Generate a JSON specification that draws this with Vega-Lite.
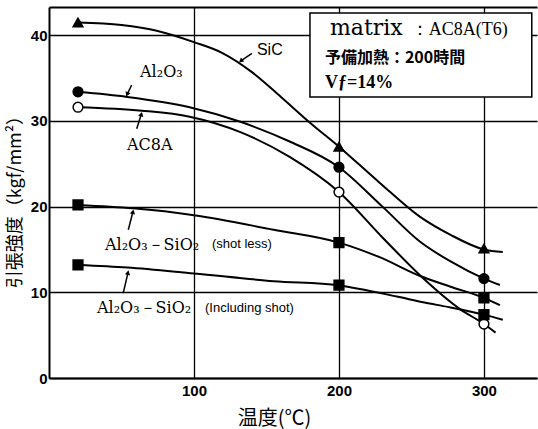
{
  "$schema": "https://vega.github.io/schema/vega-lite/v6.json",
  "width": 488,
  "height": 371,
  "autosize": {"type": "none"},
  "padding": {"left": 49, "top": 7, "right": 1, "bottom": 51},
  "background": "white",
  "config": {
    "view": {"stroke": null},
    "axis": {"domainColor": "black", "domainWidth": 2, "gridColor": "black", "gridWidth": 1.3, "gridOpacity": 1, "ticks": false, "labelColor": "black", "titleColor": "black"}
  },
  "resolve": {"axis": {"x": "independent"}},
  "datasets": {
    "curves": [
      {"series": "SiC", "x": 20, "y": 41.5}, {"series": "SiC", "x": 50, "y": 41.2}, {"series": "SiC", "x": 75, "y": 40.5}, {"series": "SiC", "x": 100, "y": 39.2}, {"series": "SiC", "x": 120, "y": 37.9}, {"series": "SiC", "x": 140, "y": 35.7}, {"series": "SiC", "x": 160, "y": 32.8}, {"series": "SiC", "x": 180, "y": 29.8}, {"series": "SiC", "x": 200, "y": 27.0}, {"series": "SiC", "x": 228, "y": 22.8}, {"series": "SiC", "x": 256, "y": 18.8}, {"series": "SiC", "x": 277, "y": 16.7}, {"series": "SiC", "x": 300, "y": 15.0}, {"series": "SiC", "x": 313, "y": 14.7},
      {"series": "Al2O3", "x": 20, "y": 33.4}, {"series": "Al2O3", "x": 54, "y": 32.8}, {"series": "Al2O3", "x": 97, "y": 31.6}, {"series": "Al2O3", "x": 132, "y": 29.9}, {"series": "Al2O3", "x": 166, "y": 27.6}, {"series": "Al2O3", "x": 200, "y": 24.6}, {"series": "Al2O3", "x": 230, "y": 20.0}, {"series": "Al2O3", "x": 256, "y": 15.9}, {"series": "Al2O3", "x": 277, "y": 13.6}, {"series": "Al2O3", "x": 300, "y": 11.6}, {"series": "Al2O3", "x": 311, "y": 10.85},
      {"series": "AC8A", "x": 20, "y": 31.6}, {"series": "AC8A", "x": 64, "y": 31.2}, {"series": "AC8A", "x": 97, "y": 30.5}, {"series": "AC8A", "x": 132, "y": 28.7}, {"series": "AC8A", "x": 166, "y": 25.8}, {"series": "AC8A", "x": 200, "y": 21.7}, {"series": "AC8A", "x": 230, "y": 16.4}, {"series": "AC8A", "x": 259, "y": 11.5}, {"series": "AC8A", "x": 283, "y": 8.1}, {"series": "AC8A", "x": 300, "y": 6.3}, {"series": "AC8A", "x": 308, "y": 5.3},
      {"series": "shotless", "x": 20, "y": 20.2}, {"series": "shotless", "x": 58, "y": 19.8}, {"series": "shotless", "x": 100, "y": 19.0}, {"series": "shotless", "x": 155, "y": 17.3}, {"series": "shotless", "x": 200, "y": 15.8}, {"series": "shotless", "x": 228, "y": 14.1}, {"series": "shotless", "x": 256, "y": 11.9}, {"series": "shotless", "x": 277, "y": 10.65}, {"series": "shotless", "x": 300, "y": 9.35}, {"series": "shotless", "x": 311, "y": 8.5},
      {"series": "including", "x": 20, "y": 13.2}, {"series": "including", "x": 54, "y": 12.9}, {"series": "including", "x": 100, "y": 12.2}, {"series": "including", "x": 155, "y": 11.3}, {"series": "including", "x": 200, "y": 10.8}, {"series": "including", "x": 240, "y": 9.5}, {"series": "including", "x": 259, "y": 8.8}, {"series": "including", "x": 275, "y": 8.3}, {"series": "including", "x": 300, "y": 7.4}, {"series": "including", "x": 313, "y": 6.8}
    ],
    "points": [
      {"series": "SiC", "x": 20, "y": 41.5}, {"series": "SiC", "x": 200, "y": 27.0}, {"series": "SiC", "x": 300, "y": 15.1},
      {"series": "Al2O3", "x": 20, "y": 33.4}, {"series": "Al2O3", "x": 200, "y": 24.6}, {"series": "Al2O3", "x": 300, "y": 11.6},
      {"series": "AC8A", "x": 20, "y": 31.6}, {"series": "AC8A", "x": 200, "y": 21.7}, {"series": "AC8A", "x": 300, "y": 6.3},
      {"series": "shotless", "x": 20, "y": 20.2}, {"series": "shotless", "x": 200, "y": 15.8}, {"series": "shotless", "x": 300, "y": 9.35},
      {"series": "including", "x": 20, "y": 13.2}, {"series": "including", "x": 200, "y": 10.85}, {"series": "including", "x": 300, "y": 7.4}
    ],
    "arrows": [
      {"x": 140.0, "y": 37.9, "x2": 132.3, "y2": 37.0, "dir": 230},
      {"x": 57.0, "y": 34.2, "x2": 53.9, "y2": 33.1, "dir": 203},
      {"x": 60.5, "y": 29.1, "x2": 63.7, "y2": 30.8, "dir": 15},
      {"x": 54.7, "y": 17.3, "x2": 57.9, "y2": 19.4, "dir": 13},
      {"x": 51.2, "y": 9.9, "x2": 54.5, "y2": 12.3, "dir": 12}
    ]
  },
  "layer": [
    {
      "data": {"values": [{"x": 180, "x2": 333, "y": 32.8, "y2": 42.6}]},
      "mark": {"type": "rect", "fill": "white", "stroke": "black", "strokeWidth": 1.5},
      "encoding": {
        "x": {"field": "x", "type": "quantitative", "scale": {"domain": [0, 336.6], "nice": false, "zero": false},
              "axis": {"orient": "top", "labels": false, "ticks": false, "grid": false, "title": null, "domainWidth": 2}},
        "x2": {"field": "x2"},
        "y": {"field": "y", "type": "quantitative", "scale": {"domain": [0, 43.3], "nice": false},
              "axis": {"values": [0, 10, 20, 30, 40], "grid": true, "labelFont": "Liberation Sans", "labelFontWeight": "bold", "labelFontSize": 15, "labelPadding": 2,
                       "title": "引張強度（kgf/mm²）", "titleFont": "Noto Sans CJK JP", "titleFontSize": 18, "titleFontWeight": "normal", "titleAngle": -90, "titleX": -34, "titleY": 190, "titleAlign": "center", "titleBaseline": "middle"}},
        "y2": {"field": "y2"}
      }
    },
    {
      "data": {"name": "curves"},
      "mark": {"type": "line", "interpolate": "monotone", "color": "black", "strokeWidth": 2},
      "encoding": {
        "x": {"field": "x", "type": "quantitative", "scale": {"domain": [0, 336.6], "nice": false, "zero": false},
              "axis": {"values": [100, 200, 300], "grid": true, "labelFont": "Liberation Sans", "labelFontWeight": "bold", "labelFontSize": 15, "labelPadding": 5,
                       "title": "温度(℃)", "titleFont": "Noto Sans CJK JP", "titleFontSize": 20, "titleFontWeight": "normal", "titleX": 225, "titleY": 40, "titleAlign": "center", "titleBaseline": "middle"}},
        "y": {"field": "y", "type": "quantitative", "title": "引張強度（kgf/mm²）"},
        "detail": {"field": "series"}
      }
    },
    {
      "data": {"name": "points"},
      "mark": {"type": "point", "filled": true, "stroke": "black", "strokeWidth": 1.5, "opacity": 1, "size": 95},
      "encoding": {
        "x": {"field": "x", "type": "quantitative", "axis": null},
        "y": {"field": "y", "type": "quantitative", "title": "引張強度（kgf/mm²）"},
        "shape": {"field": "series", "scale": {"domain": ["SiC", "Al2O3", "AC8A", "shotless", "including"], "range": ["triangle-up", "circle", "circle", "square", "square"]}, "legend": null},
        "fill": {"field": "series", "scale": {"domain": ["SiC", "Al2O3", "AC8A", "shotless", "including"], "range": ["black", "black", "white", "black", "black"]}, "legend": null}
      }
    },
    {
      "data": {"name": "arrows"},
      "mark": {"type": "rule", "color": "black", "strokeWidth": 1.5},
      "encoding": {
        "x": {"field": "x", "type": "quantitative", "axis": null},
        "y": {"field": "y", "type": "quantitative", "title": "引張強度（kgf/mm²）"},
        "x2": {"field": "x2"},
        "y2": {"field": "y2"}
      }
    },
    {
      "data": {"name": "arrows"},
      "mark": {"type": "point", "shape": "triangle-up", "filled": true, "color": "black", "size": 28, "opacity": 1},
      "encoding": {
        "x": {"field": "x2", "type": "quantitative", "axis": null},
        "y": {"field": "y2", "type": "quantitative", "title": "引張強度（kgf/mm²）"},
        "angle": {"field": "dir", "type": "quantitative", "scale": null}
      }
    },
    {
      "data": {"values": [{"x": 143.4, "y": 37.7, "label": "SiC"}]},
      "mark": {"type": "text", "align": "left", "baseline": "alphabetic", "font": "Liberation Sans", "fontSize": 16, "color": "black"},
      "encoding": {
        "x": {"field": "x", "type": "quantitative", "axis": null},
        "y": {"field": "y", "type": "quantitative", "title": "引張強度（kgf/mm²）"},
        "text": {"field": "label"}
      }
    },
    {
      "data": {"values": [
        {"x": 62.8, "y": 35.1, "label": "Al₂O₃"},
        {"x": 53.8, "y": 26.6, "label": "AC8A"},
        {"x": 38.6, "y": 14.9, "label": "Al₂O₃－SiO₂"},
        {"x": 33.1, "y": 7.6, "label": "Al₂O₃－SiO₂"}
      ]},
      "mark": {"type": "text", "align": "left", "baseline": "alphabetic", "font": "DejaVu Serif", "fontSize": 16, "color": "black"},
      "encoding": {
        "x": {"field": "x", "type": "quantitative", "axis": null},
        "y": {"field": "y", "type": "quantitative", "title": "引張強度（kgf/mm²）"},
        "text": {"field": "label"}
      }
    },
    {
      "data": {"values": [
        {"x": 112.4, "y": 15.2, "label": "(shot less)"},
        {"x": 107.6, "y": 7.7, "label": "(Including shot)"}
      ]},
      "mark": {"type": "text", "align": "left", "baseline": "alphabetic", "font": "Liberation Sans", "fontSize": 13, "color": "black"},
      "encoding": {
        "x": {"field": "x", "type": "quantitative", "axis": null},
        "y": {"field": "y", "type": "quantitative", "title": "引張強度（kgf/mm²）"},
        "text": {"field": "label"}
      }
    },
    {
      "data": {"values": [{"x": 193.8, "y": 40.0, "label": "matrix"}]},
      "mark": {"type": "text", "align": "left", "baseline": "alphabetic", "font": "DejaVu Serif", "fontSize": 22, "color": "black"},
      "encoding": {
        "x": {"field": "x", "type": "quantitative", "axis": null},
        "y": {"field": "y", "type": "quantitative", "title": "引張強度（kgf/mm²）"},
        "text": {"field": "label"}
      }
    },
    {
      "data": {"values": [{"x": 249.5, "y": 40.0, "label": "：AC8A(T6)"}]},
      "mark": {"type": "text", "align": "left", "baseline": "alphabetic", "font": "Liberation Serif", "fontSize": 18, "color": "black"},
      "encoding": {
        "x": {"field": "x", "type": "quantitative", "axis": null},
        "y": {"field": "y", "type": "quantitative", "title": "引張強度（kgf/mm²）"},
        "text": {"field": "label"}
      }
    },
    {
      "data": {"values": [{"x": 190.3, "y": 33.8, "label": "Vƒ=14%"}]},
      "mark": {"type": "text", "align": "left", "baseline": "alphabetic", "font": "Liberation Serif", "fontSize": 18, "fontWeight": "bold", "color": "black"},
      "encoding": {
        "x": {"field": "x", "type": "quantitative", "axis": null},
        "y": {"field": "y", "type": "quantitative", "title": "引張強度（kgf/mm²）"},
        "text": {"field": "label"}
      }
    },
    {
      "data": {"values": [{"x": 190.3, "y": 36.75, "label": "予備加熱：200時間"}]},
      "mark": {"type": "text", "align": "left", "baseline": "alphabetic", "font": "Noto Sans CJK JP", "fontSize": 16, "fontWeight": "bold", "color": "black"},
      "encoding": {
        "x": {"field": "x", "type": "quantitative", "axis": null},
        "y": {"field": "y", "type": "quantitative", "title": "引張強度（kgf/mm²）"},
        "text": {"field": "label"}
      }
    }
  ]
}
